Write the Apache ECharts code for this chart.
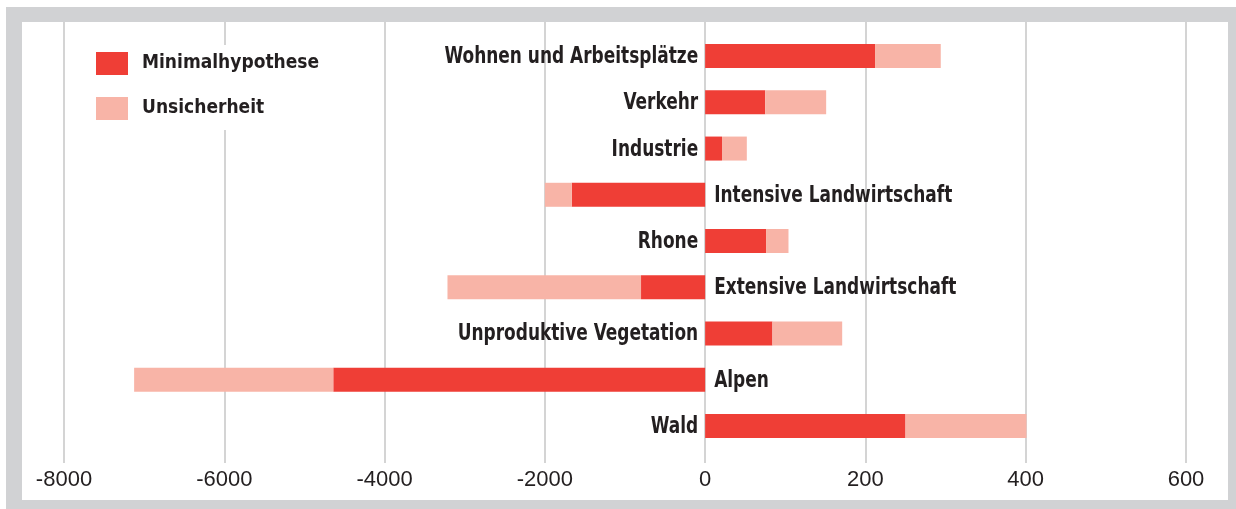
<!DOCTYPE html>
<html>
<head>
<meta charset="utf-8">
<script src="https://cdn.jsdelivr.net/npm/echarts@6/dist/echarts.min.js"></script>
<style>
    html, body { margin: 0; padding: 0; background: #fff; }
    #frame { position: absolute; left: 6px; top: 7px; width: 1230px; height: 502px; background: #d1d2d4; }
    #inner { position: absolute; left: 22px; top: 22px; width: 1206px; height: 478px; background: #fff; }
    #chart { position: absolute; left: 0; top: 0; width: 1236px; height: 509px; }
</style>
</head>
<body>
<div id="frame"></div>
<div id="inner"></div>
<div id="chart"></div>
<script>
"use strict";

// Kategorien von oben nach unten
var categories = ["Wohnen und Arbeitsplätze", "Verkehr", "Industrie", "Intensive Landwirtschaft",
    "Rhone", "Extensive Landwirtschaft", "Unproduktive Vegetation", "Alpen", "Wald"];
var minimal = [212, 75, 21, -1665, 76, -800, 84, -4640, 250];
var unsicherheit = [82, 76, 31, -335, 28, -2415, 87, -2485, 151];

// negative Seite ist 10x gestaucht
function scl(v) { return v < 0 ? v / 10 : v; }
function unscl(v) { return v < 0 ? v * 10 : v; }

var labelFont = "'DejaVu Sans Condensed', sans-serif";
var textColor = "#231f20";

var chart = echarts.init(document.getElementById("chart"));

var option = {
    backgroundColor: "transparent",
    animation: false,
    legend: {
        orient: "vertical",
        left: 86,
        top: 45,
        padding: [7, 10, 10, 10],
        backgroundColor: "#fff",
        itemWidth: 32,
        itemHeight: 23,
        itemGap: 22,
        icon: "rect",
        data: ["Minimalhypothese", "Unsicherheit"],
        textStyle: { fontFamily: labelFont, fontWeight: "bold", fontSize: 19, color: textColor, padding: [0, 0, 0, 9] }
    },
    grid: [
        { left: 64, right: 50, top: 22, bottom: 46 },
        { left: 64, right: 50, top: 33, bottom: 60 }
    ],
    xAxis: [{
        type: "value", gridIndex: 0, min: -800, max: 600, interval: 200,
        axisLine: { show: false }, axisTick: { show: false },
        splitLine: { show: true, lineStyle: { color: "#d4d4d4", width: 2 } },
        axisLabel: {
            margin: 6, fontSize: 22, color: textColor, fontFamily: "'Liberation Sans', Arial, sans-serif",
            formatter: function(v) { return String(unscl(v)); }
        }
    }, {
        type: "value", gridIndex: 1, min: -800, max: 600, show: false,
        splitLine: { show: false }
    }],
    yAxis: [{
        type: "value", gridIndex: 0, show: false, splitLine: { show: false }
    }, {
        type: "category", gridIndex: 1, inverse: true, data: categories, show: false
    }],
    series: [{
        name: "Minimalhypothese", type: "bar", stack: "a", xAxisIndex: 1, yAxisIndex: 1,
        barWidth: 24, itemStyle: { color: "#ef3e36" },
        data: minimal.map(scl)
    }, {
        name: "Unsicherheit", type: "bar", stack: "a", xAxisIndex: 1, yAxisIndex: 1,
        barWidth: 24, itemStyle: { color: "#f8b4a7" },
        data: unsicherheit.map(scl)
    }]
};

chart.setOption(option);

// Beschriftungen an der Nulllinie, schmal gestaucht wie im Original
var labels = categories.map(function(c, i) {
    var neg = minimal[i] < 0;
    var p = chart.convertToPixel({ xAxisIndex: 1, yAxisIndex: 1 }, [0, i]);
    return {
        type: "text",
        x: neg ? p[0] + 9 : p[0] - 7,
        y: p[1] + 1,
        scaleX: 0.82,
        z: 10,
        silent: true,
        style: {
            text: c,
            fill: textColor,
            font: "bold 23px " + labelFont,
            align: neg ? "left" : "right",
            verticalAlign: "middle"
        }
    };
});
chart.setOption({ graphic: labels });
</script>
</body>
</html>
